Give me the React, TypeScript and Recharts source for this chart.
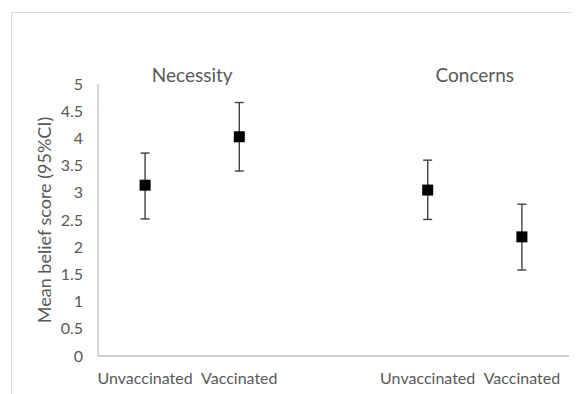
import React from 'react';
import { ComposedChart, Line, XAxis, YAxis, ErrorBar, ReferenceArea } from 'recharts';

// one slot per column; the empty middle slot separates the two groups
const slotIds = ['nu', 'nv', 'gap', 'cu', 'cv'];
const slotLabels = ['Unvaccinated', 'Vaccinated', '', 'Unvaccinated', 'Vaccinated'];
const meanScores = [3.14, 4.03, null, 3.05, 2.19];
const lowerCI = [2.52, 3.40, null, 2.51, 1.58];
const upperCI = [3.73, 4.66, null, 3.60, 2.79];
const yTicks = [0, 0.5, 1, 1.5, 2, 2.5, 3, 3.5, 4, 4.5, 5];

const groupTitles = [
  { title: 'Necessity', from: 'nu', to: 'nv' },
  { title: 'Concerns', from: 'cu', to: 'cv' },
];

const rows = slotIds.map((id, i) => {
  const m = meanScores[i];
  const lo = lowerCI[i];
  const hi = upperCI[i];
  return {
    id,
    mean: m,
    err: m == null || lo == null || hi == null ? undefined : [m - lo, hi - m],
  };
});

const FONT = 'Lato, "Open Sans", sans-serif';
const TEXT = '#595959';

const SquareDot = (props: any) => {
  const { cx, cy, index } = props;
  if (cx == null || cy == null || props.value == null) return <g key={index} />;
  return <rect key={index} x={cx - 5.5} y={cy - 5.5} width={11} height={11} fill="#000" />;
};

export default function App() {
  return (
    <div style={{ position: 'relative', width: 571, height: 386, overflow: 'hidden', background: '#fff' }}>
      <div
        style={{
          position: 'absolute',
          left: 3,
          top: 4,
          width: 620,
          height: 420,
          border: '1px solid #d9d9d9',
        }}
      />
      <div style={{ position: 'absolute', left: 0, top: 0 }}>
        <ComposedChart width={571} height={386} data={rows} margin={{ top: 76, right: 10, left: 0, bottom: 0 }}>
          <XAxis
            dataKey="id"
            scale="band"
            height={38}
            tickLine={false}
            axisLine={{ stroke: '#bfbfbf', strokeWidth: 1.3 }}
            tickFormatter={(v: string) => slotLabels[slotIds.indexOf(v)]}
            tick={{ fontSize: 16, fill: TEXT, fontFamily: FONT }}
            tickMargin={11}
            interval={0}
          />
          <YAxis
            width={90}
            domain={[0, 5]}
            ticks={yTicks}
            tickLine={false}
            axisLine={{ stroke: '#bfbfbf', strokeWidth: 1.3 }}
            tick={{ fontSize: 16, fill: TEXT, fontFamily: FONT }}
            tickMargin={9}
            interval={0}
            label={{
              value: 'Mean belief score (95%CI)',
              angle: -90,
              position: 'center',
              dx: -8,
              style: { fontSize: 18, fill: TEXT, fontFamily: FONT },
            }}
          />
          {groupTitles.map((g) => (
            <ReferenceArea
              key={g.title}
              x1={g.from}
              x2={g.to}
              y1={5}
              y2={4.9}
              fill="none"
              stroke="none"
              label={{
                value: g.title,
                position: 'top',
                offset: 2,
                style: { fontSize: 19, fill: TEXT, fontFamily: FONT },
              }}
            />
          ))}
          <Line
            dataKey="mean"
            stroke="none"
            dot={SquareDot}
            activeDot={false}
            isAnimationActive={false}
          >
            <ErrorBar dataKey="err" width={4.5} stroke="#404040" strokeWidth={1.4} isAnimationActive={false} />
          </Line>
        </ComposedChart>
      </div>
    </div>
  );
}
